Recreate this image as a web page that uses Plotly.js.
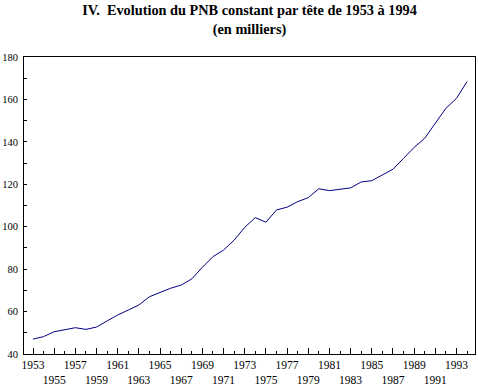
<!DOCTYPE html>
<html>
<head>
<meta charset="utf-8">
<script src="https://cdn.plot.ly/plotly-3.0.1.min.js"></script>
<style>html,body{margin:0;padding:0;background:#fff;}#chart{width:478px;height:386px;}</style>
</head>
<body>
<div id="chart"></div>
<script>
const years = [1953,1954,1955,1956,1957,1958,1959,1960,1961,1962,1963,1964,1965,1966,1967,1968,1969,1970,1971,1972,1973,1974,1975,1976,1977,1978,1979,1980,1981,1982,1983,1984,1985,1986,1987,1988,1989,1990,1991,1992,1993,1994];
const pnb = [47.0,48.2,50.5,51.5,52.4,51.6,52.7,55.6,58.4,60.7,63.1,67.0,69.1,71.0,72.5,75.4,80.9,85.9,89.0,93.7,99.7,104.3,102.1,107.9,109.2,111.8,113.7,117.9,117.0,117.8,118.3,121.1,121.7,124.4,127.1,132.2,137.4,141.7,148.8,155.8,160.5,168.4];
const xTickVals = [1953,1955,1957,1959,1961,1963,1965,1967,1969,1971,1973,1975,1977,1979,1981,1983,1985,1987,1989,1991,1993];
const xTickText = ["1953","<br>1955","1957","<br>1959","1961","<br>1963","1965","<br>1967","1969","<br>1971","1973","<br>1975","1977","<br>1979","1981","<br>1983","1985","<br>1987","1989","<br>1991","1993"];
const yTickVals = [40,60,80,100,120,140,160,180];
const titleText = "<b>IV.\u00a0 Evolution du PNB constant par tête de 1953 à 1994</b><br><b>(en milliers)</b>";

const trace = {
  x: years, y: pnb, type: 'scatter', mode: 'lines',
  line: {color: '#000080', width: 1}, hoverinfo: 'skip'
};
const layout = {
  width: 478, height: 386,
  margin: {l: 24, r: 3, t: 57, b: 32},
  paper_bgcolor: '#fff', plot_bgcolor: '#fff',
  showlegend: false,
  font: {family: 'Liberation Serif, serif', size: 11, color: '#000'},
  title: {
    text: titleText,
    font: {family: 'Liberation Serif, serif', size: 14.3, color: '#000'},
    x: 0.5, xref: 'paper', xanchor: 'center',
    y: 0.96, yref: 'container', yanchor: 'top'
  },
  xaxis: {
    range: [1952.15, 1994.75],
    tickvals: xTickVals, ticktext: xTickText, tickangle: 0,
    ticks: 'inside', ticklen: 6, tickwidth: 1, tickcolor: '#000',
    minor: {dtick: 1, tick0: 1953, ticks: 'inside', ticklen: 3, tickcolor: '#000', showgrid: false},
    showline: true, linecolor: '#000', linewidth: 1, mirror: true,
    showgrid: false, zeroline: false,
    tickfont: {family: 'Liberation Serif, serif', size: 11.5, color: '#000'},
    ticklabelstandoff: 0
  },
  yaxis: {
    range: [40, 180],
    tickvals: yTickVals,
    ticks: 'inside', ticklen: 3, tickwidth: 1, tickcolor: '#000',
    minor: {dtick: 10, tick0: 40, ticks: 'inside', ticklen: 3, tickcolor: '#000', showgrid: false},
    showline: true, linecolor: '#000', linewidth: 1, mirror: true,
    showgrid: false, zeroline: false,
    tickfont: {family: 'Liberation Serif, serif', size: 10.5, color: '#000'},
    ticklabelstandoff: 3
  }
};
Plotly.newPlot('chart', [trace], layout, {displayModeBar: false, staticPlot: true});
</script>
</body>
</html>
